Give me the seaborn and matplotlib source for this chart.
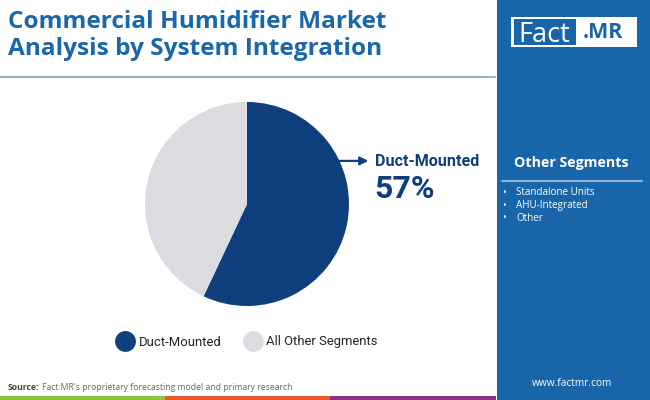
import numpy as np
import pandas as pd
import seaborn as sns
import matplotlib
matplotlib.use("Agg")
import matplotlib.pyplot as plt
from matplotlib.patches import Rectangle
from matplotlib.lines import Line2D

# ---- data ----
categories = ["Duct-Mounted", "All Other Segments"]
shares = [57, 43]
highlight_label = "Duct-Mounted"
highlight_value = "57%"
other_segments = ["Standalone Units", "AHU-Integrated", "Other"]
title_lines = ["Commercial Humidifier Market", "Analysis by System Integration"]
source_bold = "Source:"
source_text = "Fact.MR's proprietary forecasting model and primary research"
website = "www.factmr.com"

sns.set_theme(style="white")
plt.rcParams['font.family'] = ['Roboto', 'DejaVu Sans']

W, H = 650, 400
fig = plt.figure(figsize=(6.5, 4), dpi=100)
fig.patch.set_facecolor("white")

def fx(x):
    return x / W

def fy(y):
    return 1 - y / H

NAVY = "#0e3f7c"
GREY = "#dcdbe0"
PANEL = "#1866a9"
TITLE = "#1a67ab"
OS = ["Open Sans", "DejaVu Sans"]
palette = sns.color_palette([NAVY, GREY])

# ---- right panel ----
fig.patches.append(Rectangle((fx(497), 0), 1 - fx(497), 1, transform=fig.transFigure,
                             facecolor=PANEL, edgecolor="none", zorder=0))
# logo
fig.patches.append(Rectangle((fx(511), fy(47)), fx(637) - fx(511), fy(17) - fy(47),
                             transform=fig.transFigure, facecolor="white", edgecolor="none", zorder=1))
fig.patches.append(Rectangle((fx(513.5), fy(45)), fx(576) - fx(513.5), fy(19) - fy(45),
                             transform=fig.transFigure, facecolor=PANEL, edgecolor="none", zorder=2))
fig.text(fx(544.5), fy(41.5), "Fact", color="white", fontsize=19.5, family=OS,
         ha="center", va="baseline", zorder=3)
fig.text(fx(603), fy(32), ".MR", color=PANEL, fontsize=15.5, fontweight="bold",
         family=OS, ha="center", va="center", zorder=3)

fig.text(fx(571), fy(163), "Other Segments", color="white", fontsize=10.2, fontweight="bold",
         family=OS, ha="center", va="center", zorder=3)
fig.lines.append(Line2D([fx(502), fx(642)], [fy(181), fy(181)], transform=fig.transFigure,
                        color="#8db3d9", lw=1.5, zorder=3))
for i, seg in enumerate(other_segments):
    yy = 193 + i * 12.5
    fig.text(fx(504), fy(yy + 0.5), "•", color="white", fontsize=7, ha="center", va="center", zorder=3,
             family=OS)
    fig.text(fx(516), fy(yy), seg, color="white", fontsize=7.1, ha="left", va="center", zorder=3,
             family=OS)
fig.text(fx(572), fy(383), website, color="white", fontsize=7.3, ha="center", va="center", zorder=3,
         family=OS)

# ---- title ----
fig.text(fx(8), fy(22), title_lines[0], color=TITLE, fontsize=17.6, fontweight="bold",
         family=OS, ha="left", va="center")
fig.text(fx(8), fy(49), title_lines[1], color=TITLE, fontsize=17.6, fontweight="bold",
         family=OS, ha="left", va="center")
fig.lines.append(Line2D([0, fx(495)], [fy(77), fy(77)], transform=fig.transFigure,
                        color="#9ab3cb", lw=1.5))

# ---- source & bottom bars ----
src = fig.text(fx(8), fy(388), source_bold, color="#444444", fontsize=6.2, fontweight="bold",
               family=OS, ha="left", va="center")
fig.canvas.draw()
bb = src.get_window_extent(renderer=fig.canvas.get_renderer())
fig.text(bb.x1 / W + fx(2.5), fy(388), source_text, color="#666666", fontsize=6.2,
         family=OS, ha="left", va="center")
for x0, x1, c in [(0, 165, "#8cc63f"), (165, 330, "#e8562a"), (330, 496, "#8b2d8b")]:
    fig.patches.append(Rectangle((fx(x0), 0), fx(x1) - fx(x0), 4 / H, transform=fig.transFigure,
                                 facecolor=c, edgecolor="none", zorder=2))

# ---- pie ----
cx, cy, r = 247, 204, 102
ax = fig.add_axes([fx(cx - r), fy(cy + r), 2 * r / W, 2 * r / H])
ax.pie(shares, colors=palette, startangle=90, counterclock=False,
       wedgeprops=dict(linewidth=0), radius=1)
ax.set_xlim(-1, 1)
ax.set_ylim(-1, 1)
ax.set_aspect("auto")
ax.axis("off")

ang = np.deg2rad(25)
ax.annotate("", xy=(1.19, np.sin(ang)), xytext=(np.cos(ang) - 0.01, np.sin(ang)),
            arrowprops=dict(arrowstyle="-|>", color=NAVY, lw=1.6, mutation_scale=12,
                            shrinkA=0, shrinkB=0), annotation_clip=False)
fig.text(fx(375), fy(161), highlight_label, color=NAVY, fontsize=11.6, fontweight="bold",
         ha="left", va="center")
fig.text(fx(374), fy(189), highlight_value, color=NAVY, fontsize=23, fontweight="bold",
         ha="left", va="center")

# ---- legend ----
handles = [Line2D([], [], marker="o", ls="", markersize=15, markerfacecolor=c, markeredgewidth=0)
           for c in palette]
leg = fig.legend(handles, categories, loc="center left", bbox_to_anchor=(fx(117), fy(342)),
                 ncol=2, frameon=False, fontsize=9.4, handletextpad=0.4, columnspacing=1.7,
                 borderaxespad=0, borderpad=0, handlelength=1.3)
for t in leg.get_texts():
    t.set_color("#222222")

fig.savefig("out.png", dpi=100)
